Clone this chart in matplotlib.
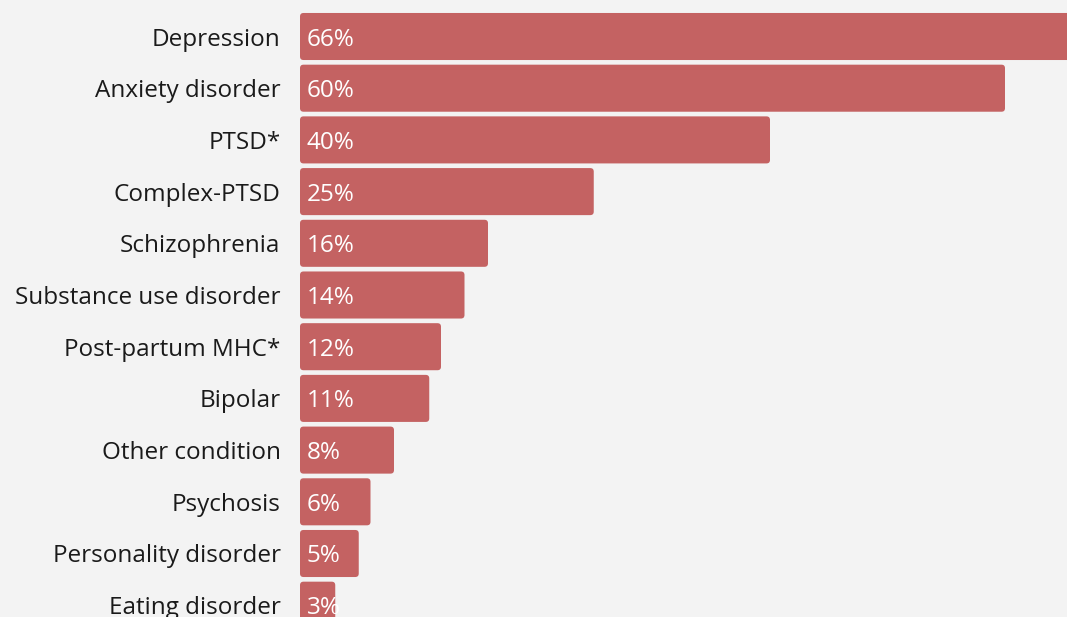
import matplotlib.pyplot as plt
import matplotlib.transforms as mtransforms
from matplotlib.patches import FancyBboxPatch

categories = ["Depression", "Anxiety disorder", "PTSD*", "Complex-PTSD", "Schizophrenia",
              "Substance use disorder", "Post-partum MHC*", "Bipolar", "Other condition",
              "Psychosis", "Personality disorder", "Eating disorder"]
values = [66, 60, 40, 25, 16, 14, 12, 11, 8, 6, 5, 3]

BG = "#f3f3f3"
BAR = "#c46262"
plt.rcParams['font.family'] = ['Open Sans', 'DejaVu Sans']

W, H = 1067, 617
fig = plt.figure(figsize=(W / 100, H / 100), dpi=100, facecolor=BG)
# axes start where the bars start (pixel 300)
ax = fig.add_axes([300 / W, 0, 1 - 300 / W, 1], facecolor=BG)

px_per_pct = 11.75
row_px = 51.7
top_px = 36.5
ax.set_xlim(0, (W - 300) / px_per_pct)
ax.set_ylim((H - top_px) / row_px, -top_px / row_px)

ypos = list(range(len(categories)))
bars = ax.barh(ypos, values, height=0.91, color=BAR)

# swap plain bars for slightly rounded ones
aspect = px_per_pct / row_px
for b in bars:
    x, y = b.get_x(), b.get_y()
    w, h = b.get_width(), b.get_height()
    p = FancyBboxPatch((x, y), w, h, boxstyle="round,pad=0,rounding_size=0.3",
                       mutation_aspect=aspect, facecolor=BAR, edgecolor="none")
    ax.add_patch(p)
    b.set_visible(False)

# nudge text a few pixels down so it sits mid-bar like the original
down = mtransforms.ScaledTranslation(0, -3 / 100, fig.dpi_scale_trans)

for y, v in zip(ypos, values):
    ax.text(0.55, y, "%d%%" % v, color="white", fontsize=17.5, va="center", ha="left",
            transform=ax.transData + down)

ax.set_yticks(ypos)
ax.set_yticklabels(categories, fontsize=17.5, color="#1a1a1a")
ax.tick_params(axis="y", length=0, pad=14)
for lab in ax.get_yticklabels():
    lab.set_verticalalignment("center")
    lab.set_transform(lab.get_transform() + down)
ax.set_xticks([])
for s in ax.spines.values():
    s.set_visible(False)

fig.savefig("out.png", dpi=100, facecolor=BG)
